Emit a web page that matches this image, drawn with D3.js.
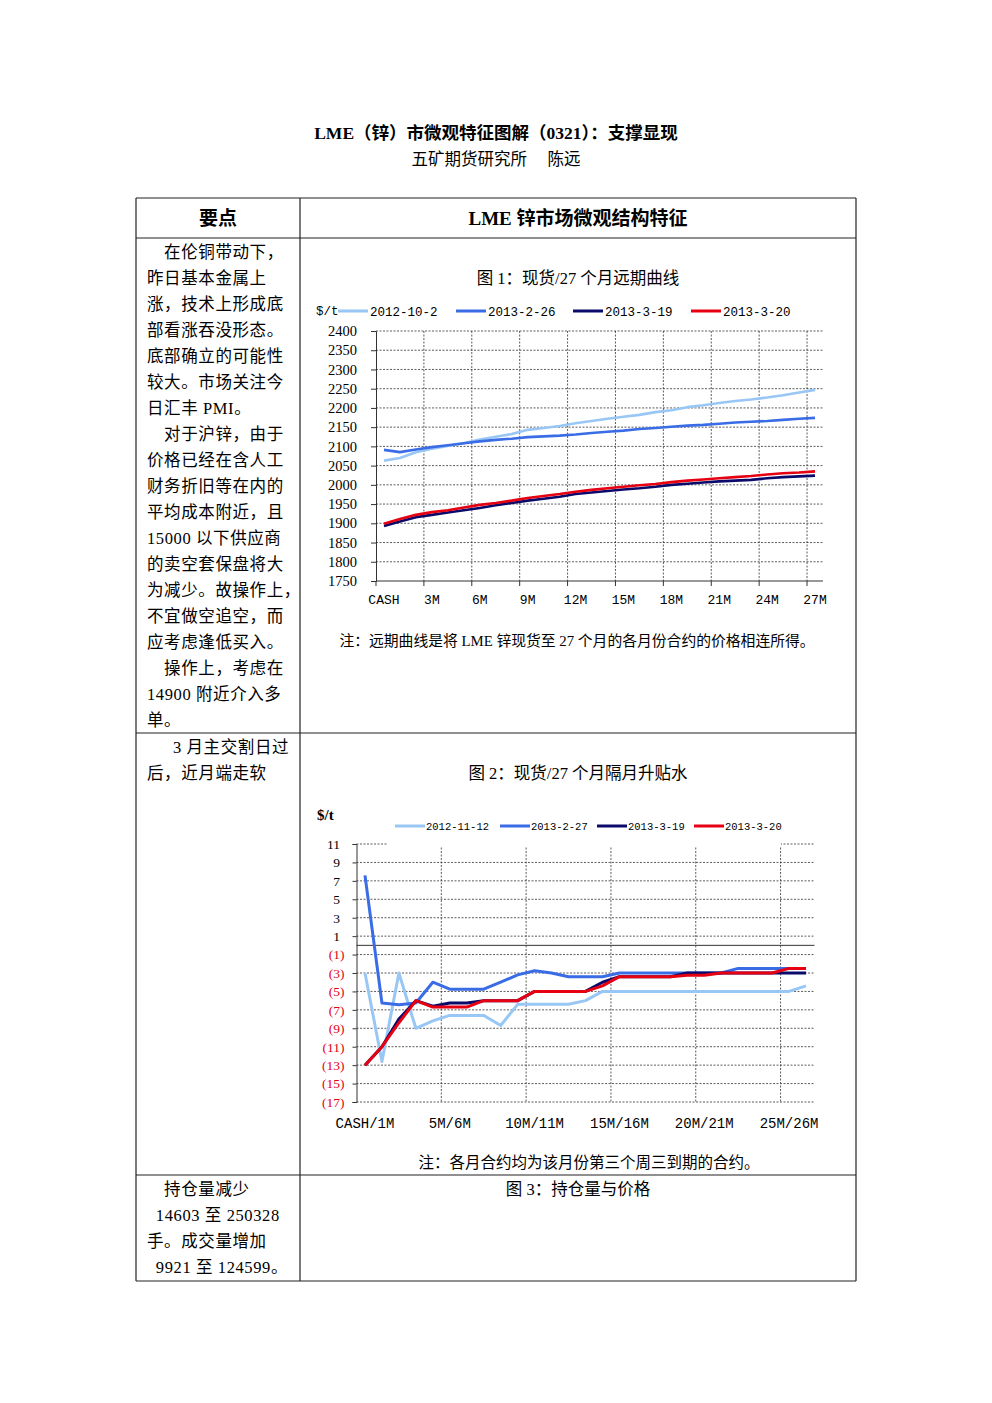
<!DOCTYPE html>
<html>
<head>
<meta charset="utf-8">
<script src="https://cdn.jsdelivr.net/npm/d3@7"></script>
<style>
  body { margin: 0; background: #fff; }
  svg { display: block; }
</style>
</head>
<body>
<div id="chartContainer"></div>
<script>
// ---------- data ----------
const curveMonths = ["CASH","1M","2M","3M","4M","5M","6M","7M","8M","9M","10M","11M","12M","13M",
  "14M","15M","16M","17M","18M","19M","20M","21M","22M","23M","24M","25M","26M","27M"];
const curveLabels = ["CASH","3M","6M","9M","12M","15M","18M","21M","24M","27M"];
const curveTicks = [1750,1800,1850,1900,1950,2000,2050,2100,2150,2200,2250,2300,2350,2400];

const curve20121002 = [2063,2070,2085,2094,2101,2108,2118,2125,2132,2143,2148,2153,2160,2166,
  2172,2177,2182,2189,2194,2202,2207,2213,2218,2222,2227,2233,2240,2247];
const curve20130226 = [2091,2085,2092,2098,2103,2108,2113,2117,2120,2124,2126,2128,2131,2135,
  2138,2141,2145,2148,2151,2154,2156,2159,2162,2164,2166,2169,2172,2174];
const curve20130319 = [1893,1905,1916,1922,1928,1934,1940,1947,1953,1959,1964,1969,1976,1980,
  1984,1988,1991,1995,2000,2003,2006,2009,2011,2013,2017,2020,2022,2024];
const curve20130320 = [1899,1911,1922,1929,1934,1941,1948,1953,1959,1966,1971,1976,1982,1987,
  1991,1995,1999,2002,2007,2011,2014,2017,2020,2023,2027,2030,2032,2035];
const curveSeriesNames = ["2012-10-2","2013-2-26","2013-3-19","2013-3-20"];

const spreadPairs = ["CASH/1M","1M/2M","2M/3M","3M/4M","4M/5M","5M/6M","6M/7M","7M/8M","8M/9M",
  "9M/10M","10M/11M","11M/12M","12M/13M","13M/14M","14M/15M","15M/16M","16M/17M","17M/18M",
  "18M/19M","19M/20M","20M/21M","21M/22M","22M/23M","23M/24M","24M/25M","25M/26M","26M/27M"];
const spreadLabels = ["CASH/1M","5M/6M","10M/11M","15M/16M","20M/21M","25M/26M"];
const spreadTicks = [-17,-15,-13,-11,-9,-7,-5,-3,-1,1,3,5,7,9,11];

const spread20121112 = [-3,-12.6,-3,-9,-8.2,-7.6,-7.6,-7.6,-8.7,-6.4,-6.4,-6.4,-6.4,-6,
  -5,-5,-5,-5,-5,-5,-5,-5,-5,-5,-5,-5,-4.4];
const spread20130227 = [7.6,-6.25,-6.45,-6.25,-4,-4.75,-4.75,-4.75,-4,-3.2,-2.75,-3,-3.4,-3.4,
  -3.4,-3,-3,-3,-3,-3,-3,-3,-2.5,-2.5,-2.5,-2.5,-2.5];
const spread20130319 = [-13,-11,-8,-6,-6.6,-6.25,-6.25,-6,-6,-6,-5,-5,-5,-5,
  -4,-3.4,-3.4,-3.4,-3.4,-3,-3,-3,-3,-3,-3,-3,-3];
const spread20130320 = [-13,-11,-8.4,-6,-6.7,-6.7,-6.7,-6,-6,-6,-5,-5,-5,-5,
  -4.4,-3.4,-3.4,-3.4,-3.4,-3.25,-3.25,-3,-3,-3,-3,-2.5,-2.5];
const spreadSeriesNames = ["2012-11-12","2013-2-27","2013-3-19","2013-3-20"];

const seriesColors = ["#99C7F5","#3A6CE6","#0A0A6A","#E60012"];

// ---------- texts ----------
const pageTitle = "LME（锌）市微观特征图解（0321）：支撑显现";
const pageSubtitle = "五矿期货研究所　 陈远";
const row1Text = ["　在伦铜带动下，","昨日基本金属上","涨，技术上形成底","部看涨吞没形态。",
  "底部确立的可能性","较大。市场关注今","日汇丰 PMI。","　对于沪锌，由于","价格已经在含人工",
  "财务折旧等在内的","平均成本附近，且","15000 以下供应商","的卖空套保盘将大","为减少。故操作上，",
  "不宜做空追空，而","应考虑逢低买入。","　操作上，考虑在","14900 附近介入多","单。"];
const row2Text = ["　\u20023 月主交割日过","后，近月端走软"];
const row3Text = ["　持仓量减少","\u200214603 至 250328","手。成交量增加","\u20029921 至 124599。"];

const serif = "'Liberation Serif','Noto Sans CJK SC',serif";
const mono = "'Liberation Mono','Noto Sans CJK SC',monospace";

const width = 992, height = 1403;
const svg = d3.create("svg")
  .attr("width", width)
  .attr("height", height)
  .attr("viewBox", [0, 0, width, height])
  .style("font-family", serif);
document.getElementById("chartContainer").appendChild(svg.node());

svg.append("rect").attr("width", width).attr("height", height).attr("fill", "#fff");

// title block
svg.append("text").attr("x", 496).attr("y", 139).attr("text-anchor", "middle")
  .attr("font-size", 17.5).attr("font-weight", "bold").text(pageTitle);
svg.append("text").attr("x", 496).attr("y", 165).attr("text-anchor", "middle")
  .attr("font-size", 16.5).text(pageSubtitle);

// table frame
const tL = 136, tR = 856, tC = 300;
const rows = [198, 238, 733, 1175, 1281];
const frame = svg.append("g").attr("stroke", "#222").attr("stroke-width", 1.2);
rows.forEach(y => frame.append("line").attr("x1", tL).attr("x2", tR).attr("y1", y).attr("y2", y));
[tL, tC, tR].forEach(x => frame.append("line").attr("x1", x).attr("x2", x).attr("y1", rows[0]).attr("y2", rows[4]));

svg.append("text").attr("x", 218).attr("y", 225).attr("text-anchor", "middle")
  .attr("font-size", 19).attr("font-weight", "bold").text("要点");
svg.append("text").attr("x", 578).attr("y", 225).attr("text-anchor", "middle")
  .attr("font-size", 19).attr("font-weight", "bold").text("LME 锌市场微观结构特征");

function block(lines, y0) {
  svg.append("g").attr("font-size", 16.5).attr("letter-spacing", 0.6)
    .selectAll("text").data(lines).join("text")
    .attr("x", 147).attr("y", (d, i) => y0 + i * 26)
    .text(d => d);
}
block(row1Text, 258);
block(row2Text, 753);
block(row3Text, 1195);

svg.append("text").attr("x", 578).attr("y", 1195).attr("text-anchor", "middle")
  .attr("font-size", 16.5).text("图 3：持仓量与价格");

// ---------- chart 1 ----------
svg.append("text").attr("x", 578).attr("y", 284).attr("text-anchor", "middle")
  .attr("font-size", 16.5).text("图 1：现货/27 个月远期曲线");

const x1 = d3.scaleBand().domain(curveMonths).range([376, 823]);
const y1 = d3.scaleLinear().domain([1750, 2400]).range([581, 331]);
const bw1 = x1.bandwidth();
const c1 = svg.append("g");

c1.append("g").attr("stroke", "#333").attr("stroke-width", 0.8).attr("stroke-dasharray", "2,1.5")
  .selectAll("line").data(curveTicks.slice(1)).join("line")
  .attr("x1", 376).attr("x2", 823).attr("y1", d => y1(d)).attr("y2", d => y1(d));
c1.append("g").attr("stroke", "#333").attr("stroke-width", 0.8).attr("stroke-dasharray", "2,1.5")
  .selectAll("line").data(curveLabels.slice(1)).join("line")
  .attr("x1", d => x1(d)).attr("x2", d => x1(d)).attr("y1", 331).attr("y2", 581);

c1.append("g").attr("transform", "translate(376,0)")
  .call(d3.axisLeft(y1).tickValues(curveTicks).tickSize(5).tickPadding(14).tickFormat(d3.format("d")))
  .call(g => g.selectAll("text").attr("font-family", serif).attr("font-size", 14.5).attr("fill", "#000"))
  .call(g => g.selectAll("line,path").attr("stroke", "#333"));

c1.append("g").attr("transform", "translate(0,581)")
  .call(d3.axisBottom(x1).tickValues(curveLabels).tickSize(0).tickPadding(14))
  .call(g => g.select(".domain").remove())
  .call(g => g.selectAll("text").attr("font-family", mono).attr("font-size", 13).attr("fill", "#000"));
c1.append("line").attr("x1", 376).attr("x2", 823).attr("y1", 581).attr("y2", 581).attr("stroke", "#333");
c1.append("g").attr("stroke", "#333")
  .selectAll("line").data(curveLabels).join("line")
  .attr("x1", d => x1(d)).attr("x2", d => x1(d)).attr("y1", 581).attr("y2", 586);

const line1 = d3.line().x((d, i) => x1(curveMonths[i]) + bw1 / 2).y(d => y1(d));
[curve20121002, curve20130226, curve20130319, curve20130320].forEach((s, k) => {
  c1.append("path").attr("d", line1(s)).attr("fill", "none")
    .attr("stroke", seriesColors[k]).attr("stroke-width", 2.6).attr("stroke-linejoin", "round");
});

// legend 1
c1.append("text").attr("x", 316).attr("y", 315).attr("font-family", mono).attr("font-size", 12.5).text("$/t");
const leg1x = [338, 456, 573, 691];
curveSeriesNames.forEach((n, k) => {
  c1.append("line").attr("x1", leg1x[k]).attr("x2", leg1x[k] + 30).attr("y1", 311).attr("y2", 311)
    .attr("stroke", seriesColors[k]).attr("stroke-width", 3);
  c1.append("text").attr("x", leg1x[k] + 32).attr("y", 315.5).attr("font-family", mono)
    .attr("font-size", 12.5).text(n);
});

svg.append("text").attr("x", 577).attr("y", 646).attr("text-anchor", "middle")
  .attr("font-size", 14.8).text("注：远期曲线是将 LME 锌现货至 27 个月的各月份合约的价格相连所得。");

// ---------- chart 2 ----------
svg.append("text").attr("x", 578).attr("y", 779).attr("text-anchor", "middle")
  .attr("font-size", 16.5).text("图 2：现货/27 个月隔月升贴水");

const x2 = d3.scaleBand().domain(spreadPairs).range([356.5, 814.5]);
const y2 = d3.scaleLinear().domain([-17, 11]).range([1102, 844]);
const bw2 = x2.bandwidth();
const c2 = svg.append("g");

c2.append("g").attr("stroke", "#333").attr("stroke-width", 0.8).attr("stroke-dasharray", "2,1.5")
  .selectAll("line").data(spreadTicks).join("line")
  .attr("x1", 356.5).attr("x2", 814.5).attr("y1", d => y2(d)).attr("y2", d => y2(d));
c2.append("g").attr("stroke", "#333").attr("stroke-width", 0.8).attr("stroke-dasharray", "2,1.5")
  .selectAll("line").data(spreadLabels.slice(1)).join("line")
  .attr("x1", d => x2(d)).attr("x2", d => x2(d)).attr("y1", 844).attr("y2", 1102);

// legend box hides the top of the grid
c2.append("rect").attr("x", 388).attr("y", 812).attr("width", 393).attr("height", 35).attr("fill", "#fff");

c2.append("line").attr("x1", 356.5).attr("x2", 814.5).attr("y1", y2(0)).attr("y2", y2(0))
  .attr("stroke", "#333").attr("stroke-width", 1);

c2.append("g").attr("transform", "translate(356.5,0)")
  .call(d3.axisLeft(y2).tickValues(spreadTicks).tickSize(4).tickPadding(8)
    .tickFormat(d => d < 0 ? `(${-d})` : `${d}`))
  .call(g => g.selectAll("line,path").attr("stroke", "#333"))
  .call(g => g.selectAll("text").attr("font-family", serif).attr("font-size", 13.5)
    .attr("fill", d => d < 0 ? "#E60012" : "#000")
    .attr("dx", d => d < 0 ? 0 : -4.5));

c2.append("g").attr("transform", "translate(0,1102)")
  .call(d3.axisBottom(x2).tickValues(spreadLabels).tickSize(0).tickPadding(16))
  .call(g => g.select(".domain").remove())
  .call(g => g.selectAll("text").attr("font-family", mono).attr("font-size", 14).attr("fill", "#000"));

const line2 = d3.line().x((d, i) => x2(spreadPairs[i]) + bw2 / 2).y(d => y2(d));
[spread20121112, spread20130227, spread20130319, spread20130320].forEach((s, k) => {
  c2.append("path").attr("d", line2(s)).attr("fill", "none")
    .attr("stroke", seriesColors[k]).attr("stroke-width", 3).attr("stroke-linejoin", "round");
});

// legend 2
c2.append("text").attr("x", 317).attr("y", 820).attr("font-size", 15).attr("font-weight", "bold").text("$/t");
const leg2x = [395, 500, 597, 694];
spreadSeriesNames.forEach((n, k) => {
  c2.append("line").attr("x1", leg2x[k]).attr("x2", leg2x[k] + 30).attr("y1", 826).attr("y2", 826)
    .attr("stroke", seriesColors[k]).attr("stroke-width", 3);
  c2.append("text").attr("x", leg2x[k] + 31).attr("y", 830).attr("font-family", mono)
    .attr("font-size", 10.5).text(n);
});

svg.append("text").attr("x", 589).attr("y", 1168).attr("text-anchor", "middle")
  .attr("font-size", 15.5).text("注：各月合约均为该月份第三个周三到期的合约。");
</script>
</body>
</html>
